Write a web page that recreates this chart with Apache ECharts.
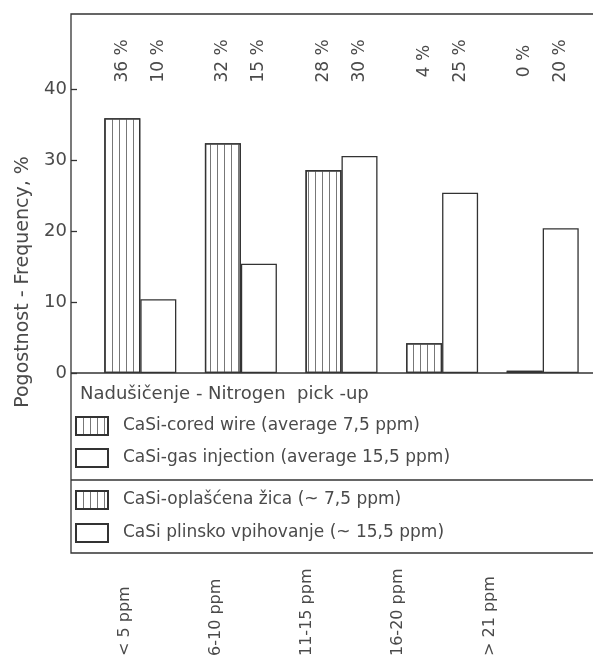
<!DOCTYPE html>
<html><head><meta charset="utf-8">
<script src="https://cdn.jsdelivr.net/npm/echarts@6/dist/echarts.min.js"></script>
<style>html,body{margin:0;padding:0;background:#fff}#c{width:593px;height:661px}</style>
</head><body><div id="c"></div>
<script>
const categories = ['< 5 ppm', '6-10 ppm', '11-15 ppm', '16-20 ppm', '> 21 ppm'];
const coredWire = [35.9, 32.4, 28.6, 4.2, 0.3];
const gasInjection = [10.4, 15.4, 30.6, 25.4, 20.4];
const coredWireLabels = [36, 32, 28, 4, 0];
const gasInjectionLabels = [10, 15, 30, 25, 20];
const yTicks = [0, 10, 20, 30, 40];
const seriesNames = ['CaSi-cored wire (average 7,5 ppm)', 'CaSi-gas injection (average 15,5 ppm)'];
const seriesNamesSl = ['CaSi-oplašćena žica (~ 7,5 ppm)', 'CaSi plinsko vpihovanje (~ 15,5 ppm)'];
const legendTitle = 'Nadušičenje - Nitrogen  pick -up';
const yTitle = 'Pogostnost - Frequency, %';

const FONT = 'DejaVu Sans';
const INK = '#333';
const TXT = '#4a4a4a';
const BAR_W = 36;

function labelSeries(values, side) {
  return {
    type: 'custom', xAxisIndex: 0, yAxisIndex: 0, silent: true, z: 5,
    data: values.map((v, i) => [i, v]),
    renderItem(params, api) {
      const c = api.coord([api.value(0), 0]);
      const x = c[0] + side * BAR_W / 2;
      const y = params.coordSys.y + 47;
      return {
        type: 'text', x: x, y: y, rotation: Math.PI / 2,
        style: { text: api.value(1) + ' %', align: 'center', verticalAlign: 'middle',
                 font: '17px "' + FONT + '"', fill: TXT }
      };
    }
  };
}

const chart = echarts.init(document.getElementById('c'));
chart.setOption({
  animation: false,
  backgroundColor: '#fff',
  grid: [
    { left: 90, width: 522, top: 14, height: 359 },
    { left: 79, width: 456, top: 660, height: 1 }
  ],
  xAxis: [
    { type: 'category', gridIndex: 0, data: categories,
      axisLine: { show: false }, axisTick: { show: false }, axisLabel: { show: false } },
    { type: 'category', gridIndex: 1, data: categories, position: 'top',
      axisLine: { show: false }, axisTick: { show: false },
      axisLabel: { rotate: 90, margin: 4, fontFamily: FONT, fontSize: 16, color: TXT } }
  ],
  yAxis: [
    { type: 'value', gridIndex: 0, min: 0, max: 50.6, offset: 19,
      axisLine: { show: false },
      axisTick: { show: true, inside: true, length: 6, customValues: yTicks, lineStyle: { color: INK, width: 1.3 } },
      axisLabel: { customValues: yTicks, margin: 4, fontFamily: FONT, fontSize: 18, color: TXT },
      splitLine: { show: false } },
    { type: 'value', gridIndex: 1, show: false }
  ],
  legend: [
    { data: seriesNames, left: 70, top: 411, orient: 'vertical', itemWidth: 32, itemHeight: 18, itemGap: 12,
      icon: 'rect', selectedMode: false,
      textStyle: { fontFamily: FONT, fontSize: 17, color: TXT, padding: [0, 0, 0, 10] } },
    { data: seriesNames, left: 70, top: 485, orient: 'vertical', itemWidth: 32, itemHeight: 18, itemGap: 13,
      icon: 'rect', selectedMode: false,
      formatter: n => seriesNamesSl[seriesNames.indexOf(n)],
      textStyle: { fontFamily: FONT, fontSize: 17, color: TXT, padding: [0, 0, 0, 10] } }
  ],
  series: [
    { name: seriesNames[0], type: 'bar', data: coredWire, barWidth: BAR_W, barGap: '0%',
      itemStyle: { color: '#fff', borderColor: INK, borderWidth: 1.3,
        decal: { symbol: 'rect', symbolSize: 1, color: '#777', dashArrayX: [1, 6], dashArrayY: [10, 0] } } },
    { name: seriesNames[1], type: 'bar', data: gasInjection, barWidth: BAR_W, barGap: '0%',
      itemStyle: { color: '#fff', borderColor: INK, borderWidth: 1.3 } },
    labelSeries(coredWireLabels, -1),
    labelSeries(gasInjectionLabels, 1)
  ],
  graphic: [
    { type: 'rect', silent: true, z: 0, shape: { x: 71, y: 14, width: 600, height: 539 },
      style: { fill: null, stroke: INK, lineWidth: 1.3 } },
    { type: 'line', silent: true, shape: { x1: 71, y1: 373, x2: 600, y2: 373 }, style: { stroke: INK, lineWidth: 1.3 } },
    { type: 'line', silent: true, shape: { x1: 71, y1: 480, x2: 600, y2: 480 }, style: { stroke: INK, lineWidth: 1.3 } },
    { type: 'text', silent: true, x: 23, y: 282, rotation: Math.PI / 2,
      style: { text: yTitle, align: 'center', verticalAlign: 'middle', font: '19px "' + FONT + '"', fill: TXT } },
    { type: 'text', silent: true, x: 80, y: 394,
      style: { text: legendTitle, align: 'left', verticalAlign: 'middle', font: '18px "' + FONT + '"', fill: TXT } }
  ]
});
</script></body></html>
